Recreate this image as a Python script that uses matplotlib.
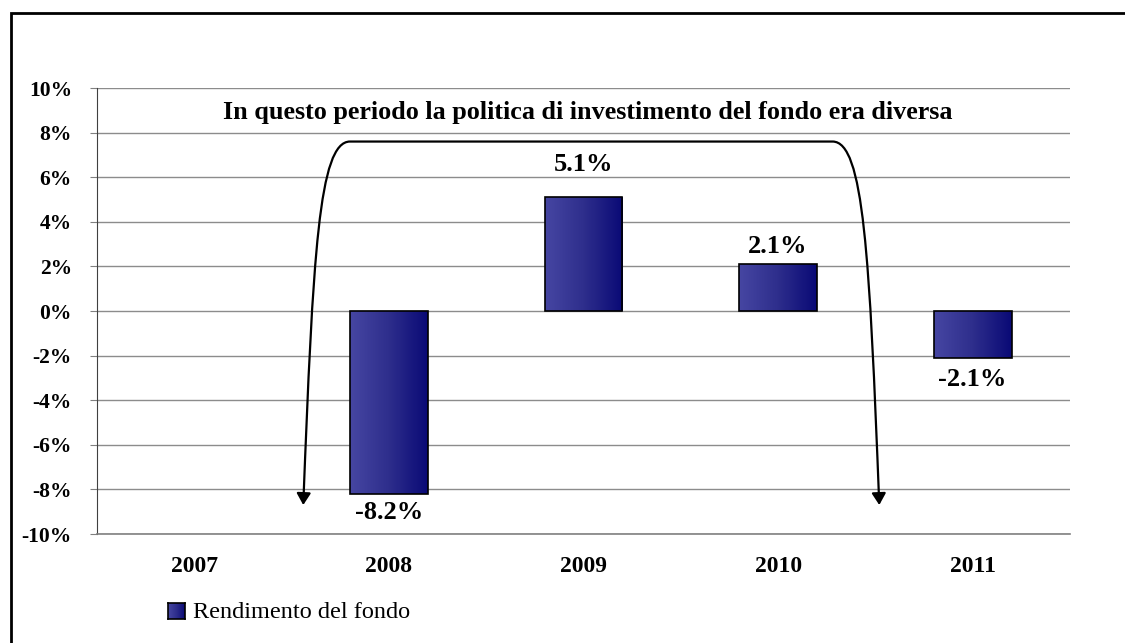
import matplotlib.pyplot as plt
import numpy as np
from matplotlib.path import Path
from matplotlib.patches import FancyArrowPatch, Rectangle
from matplotlib.colors import LinearSegmentedColormap

plt.rcParams['font.family'] = ['Liberation Serif', 'DejaVu Serif']

years = ["2007", "2008", "2009", "2010", "2011"]
rendimento = [np.nan, -8.2, 5.1, 2.1, -2.1]
bar_labels = ["", "-8.2%", "5.1%", "2.1%", "-2.1%"]
yticks = [-10, -8, -6, -4, -2, 0, 2, 4, 6, 8, 10]
note = "In questo periodo la politica di investimento del fondo era diversa"

# distanza etichetta-barra (come nell'originale, non uniforme)
label_off = [0, -0.85, 1.45, 0.8, -0.96]

# gradiente delle barre
grad = LinearSegmentedColormap.from_list("fondo", ["#4646a2", "#2e2e8c", "#0a0a76"])
gimg = np.linspace(0, 1, 64).reshape(1, -1)

fig = plt.figure(figsize=(11.25, 6.43), dpi=100)
ax = fig.add_axes([0.0862, 0.1695, 0.8649, 0.6936])

x = np.arange(len(years))
width = 0.4
bars = ax.bar(x, rendimento, width=width, facecolor="none", edgecolor="black",
              linewidth=1.2, zorder=3)
for b in bars:
    h = b.get_height()
    if np.isnan(h):
        continue
    x0, y0 = b.get_x(), b.get_y()
    ax.imshow(gimg, cmap=grad, aspect="auto", zorder=2,
              extent=[x0, x0 + b.get_width(), y0, y0 + h])

# etichette valori
for xi, v, lab, off in zip(x, rendimento, bar_labels, label_off):
    if np.isnan(v):
        continue
    ax.text(xi, v + off, lab, ha="center", va="center", fontsize=19,
            fontweight="bold", zorder=5)

ax.set_xlim(-0.5, len(years) - 0.5)
ax.set_ylim(-10, 10)
ax.set_yticks(yticks)
ax.set_yticklabels([f"{t}%" for t in yticks], fontsize=15.5, fontweight="bold")
ax.set_xticks(x)
ax.set_xticklabels(years, fontsize=17, fontweight="bold")
ax.tick_params(axis="x", length=0, pad=16)
ax.tick_params(axis="y", length=5, color="#808080", pad=13)
ax.yaxis.grid(True, color="#8c8c8c", linewidth=1)
ax.set_axisbelow(True)
for s in ["top", "right"]:
    ax.spines[s].set_visible(False)
ax.spines["left"].set_color("#404040")
ax.spines["bottom"].set_color("#808080")
ax.spines["bottom"].set_linewidth(1.2)

# parentesi con frecce
xl, xr = 0.56, 3.52
ytop, ybot = 7.6, -8.7
verts = [(xl, ybot), (xl + 0.05, 2.5), (xl + 0.08, ytop), (xl + 0.24, ytop),
         (xr - 0.24, ytop),
         (xr - 0.08, ytop), (xr - 0.05, 2.5), (xr, ybot)]
codes = [Path.MOVETO, Path.CURVE4, Path.CURVE4, Path.CURVE4,
         Path.LINETO,
         Path.CURVE4, Path.CURVE4, Path.CURVE4]
arr = FancyArrowPatch(path=Path(verts, codes),
                      arrowstyle="<|-|>,head_length=0.5,head_width=0.3",
                      mutation_scale=14, color="black", linewidth=1.6, zorder=4)
ax.add_patch(arr)
ax.text(2.02, 8.9, note, ha="center", va="center", fontsize=18.8,
        fontweight="bold", zorder=5)

# legenda
leg_sq = fig.add_axes([168 / 1125, 1 - 619 / 643, 17 / 1125, 16 / 643])
leg_sq.imshow(gimg, cmap=grad, aspect="auto")
leg_sq.set_xticks([])
leg_sq.set_yticks([])
for s in leg_sq.spines.values():
    s.set_linewidth(1.2)
fig.text(193 / 1125, 1 - 612 / 643, "Rendimento del fondo", ha="left",
         va="center", fontsize=17.5)

# cornice esterna
fig.patches.append(Rectangle((11 / 1125, -0.2), 2, 1.2 - 13 / 643, fill=False,
                             edgecolor="black", linewidth=2,
                             transform=fig.transFigure, figure=fig))

fig.savefig("out.png", dpi=100)
